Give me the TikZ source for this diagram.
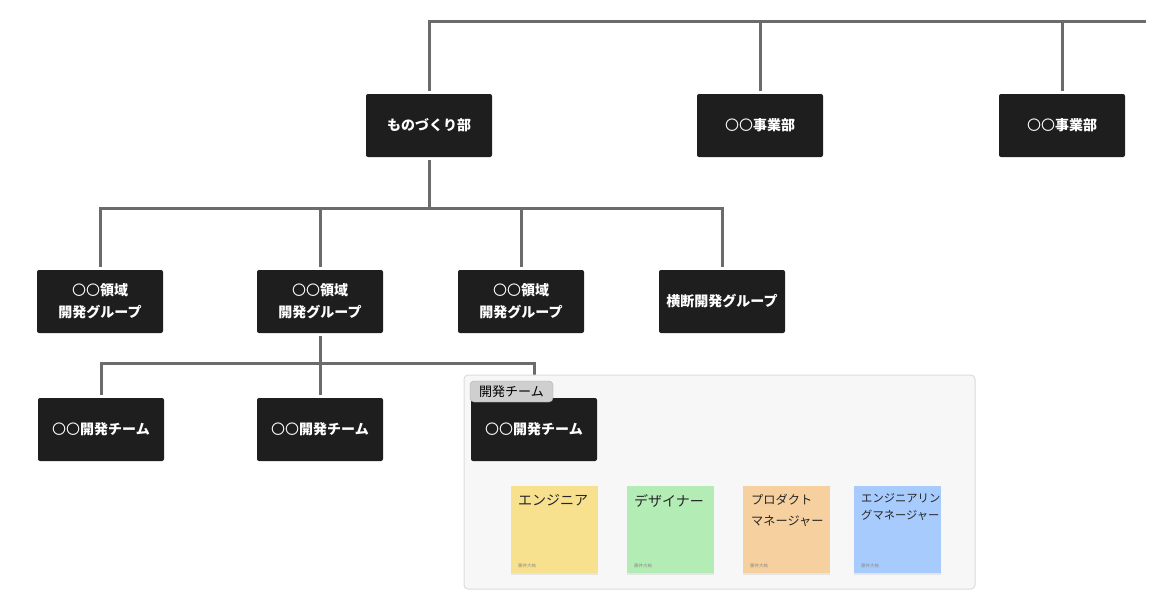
\documentclass[tikz,border=0pt]{standalone}
\usepackage{fontspec}
\setmainfont{Noto Sans CJK JP}
\usepackage{tikz}
\usetikzlibrary{positioning,shadows}
\definecolor{boxblack}{HTML}{1E1E1E}
\definecolor{linegray}{HTML}{6B6B6B}
\definecolor{framefill}{HTML}{F7F7F7}
\definecolor{frameline}{HTML}{DCDCDC}
\definecolor{tagfill}{HTML}{CFCFCF}
\definecolor{tagline}{HTML}{A8A8A8}
\definecolor{noteyellow}{HTML}{F8E18E}
\definecolor{notegreen}{HTML}{B3ECB5}
\definecolor{noteorange}{HTML}{F6D09E}
\definecolor{noteblue}{HTML}{A7CBFC}
\pgfdeclarelayer{back}
\pgfdeclarelayer{mid}
\pgfsetlayers{back,mid,main}
% placeholder circles in regular weight
\newcommand{\maru}{{\mdseries 〇〇}}
\tikzset{
	orgbox/.style={rectangle, fill=boxblack, rounded corners=2pt, minimum width=126pt, minimum height=63pt, inner sep=0pt, outer ysep=3pt, text=white, align=center, font=\bfseries\fontsize{14}{22}\selectfont},
	orgline/.style={draw=linegray, line width=3pt},
	note/.style={rectangle, fill=#1, minimum width=87pt, minimum height=87pt, inner sep=0pt, anchor=north west, drop shadow={opacity=0.15, shadow xshift=0pt, shadow yshift=-1.5pt}},
	notetext/.style={anchor=north west, inner sep=0pt, align=left, text=black!85},
	noteauthor/.style={anchor=south west, inner sep=0pt, text=black!45, font=\fontsize{4.5}{5}\selectfont},
}
\begin{document}
\begin{tikzpicture}[x=1pt,y=-1pt]
	\useasboundingbox (0,0) rectangle (1174,610);
	
	% top level
	\node[orgbox] (mono) at (429,125.5) {ものづくり部};
	\node[orgbox] (jig1) at (760,125.5) {\maru 事業部};
	\node[orgbox] (jig2) at (1062,125.5) {\maru 事業部};
	
	% groups
	\node[orgbox] (grp1) at (100,301.5) {\maru 領域\\開発グループ};
	\node[orgbox] (grp2) at (320,301.5) {\maru 領域\\開発グループ};
	\node[orgbox] (grp3) at (521,301.5) {\maru 領域\\開発グループ};
	\node[orgbox] (grp4) at (722,301.5) {横断開発グループ};
	
	% teams
	\node[orgbox] (team1) at (101,429.5) {\maru 開発チーム};
	\node[orgbox] (team2) at (320,429.5) {\maru 開発チーム};
	\node[orgbox] (team3) at (534,429.5) {\maru 開発チーム};
	
	% bus lines
	\coordinate (topend) at (1146,22);
	\coordinate (bus1) at (429,208);
	\coordinate (bus2) at (320,363);
	
	\begin{pgfonlayer}{back}
		\draw[orgline] (mono.north) |- (topend);
		\draw[orgline] (jig1.north) -- (jig1.north |- topend);
		\draw[orgline] (jig2.north) -- (jig2.north |- topend);
		
		\draw[orgline] (mono.south) -- (bus1);
		\draw[orgline] (grp1.north) |- (bus1);
		\draw[orgline] (grp4.north) |- (bus1);
		\draw[orgline] (grp2.north) -- (grp2.north |- bus1);
		\draw[orgline] (grp3.north) -- (grp3.north |- bus1);
		
		\draw[orgline] (grp2.south) -- (team2.north);
		\draw[orgline] (team1.north) |- (bus2);
		\draw[orgline] (team3.north) |- (bus2);
	\end{pgfonlayer}
	
	% team frame
	\begin{pgfonlayer}{mid}
		\draw[fill=framefill, draw=frameline, line width=1pt, rounded corners=4pt] (464,375) rectangle (975,589);
	\end{pgfonlayer}
	\node[draw=tagline, fill=tagfill, rounded corners=4pt, minimum width=83pt, minimum height=21pt, inner sep=0pt, font=\fontsize{13}{15}\selectfont] (tag) at (511.5,391.5) {開発チーム};
	
	% sticky notes
	\node[note=noteyellow] (eng) at (511,486) {};
	\node[note=notegreen] (des) at (627,486) {};
	\node[note=noteorange] (pdm) at (743,486) {};
	\node[note=noteblue] (emg) at (854,486) {};
	
	\node[notetext, font=\fontsize{14}{21}\selectfont, below right=8pt and 7pt of eng.north west] (engtxt) {エンジニア};
	\node[notetext, font=\fontsize{14}{21}\selectfont, below right=8pt and 7pt of des.north west] (destxt) {デザイナー};
	\node[notetext, font=\fontsize{12.2}{21}\selectfont, below right=8pt and 8pt of pdm.north west] (pdmtxt) {プロダクト\\マネージャー};
	\node[notetext, font=\fontsize{11.3}{17}\selectfont, below right=7pt and 7pt of emg.north west] (emgtxt) {エンジニアリン\\グマネージャー};
	
	\foreach \n in {eng,des,pdm,emg}
		\node[noteauthor, above right=5pt and 7pt of \n.south west] {藤井大祐};
	
\end{tikzpicture}
\end{document}
